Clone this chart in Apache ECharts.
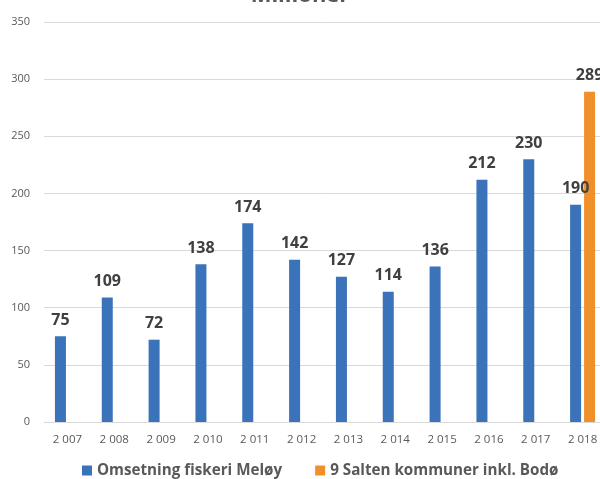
<!DOCTYPE html>
<html>
<head>
<meta charset="utf-8">
<script src="https://cdn.jsdelivr.net/npm/echarts@6/dist/echarts.min.js"></script>
<style>
  html, body { margin: 0; padding: 0; background: #fff; }
  #main { width: 600px; height: 479px; }
</style>
</head>
<body>
<div id="main"></div>
<script>
var years = ['2 007', '2 008', '2 009', '2 010', '2 011', '2 012', '2 013', '2 014', '2 015', '2 016', '2 017', '2 018'];
var meloy = [75, 109, 72, 138, 174, 142, 127, 114, 136, 212, 230, 190];
var salten = [null, null, null, null, null, null, null, null, null, null, null, 289];
var yTicks = [0, 350, 50];

var labelStyle = {
    show: true,
    position: 'top',
    distance: 8,
    fontSize: 16,
    fontWeight: 'bold',
    color: '#404040',
    fontFamily: 'Open Sans'
};

var option = {
    animation: false,
    title: {
        text: 'Millioner',
        left: 'center',
        top: -20,
        textStyle: { fontSize: 22, fontWeight: 'bold', color: '#595959', fontFamily: 'Open Sans' }
    },
    legend: {
        data: ['Omsetning fiskeri Meløy', '9 Salten kommuner inkl. Bodø'],
        left: 77,
        top: 458,
        width: 560,
        itemWidth: 10,
        itemHeight: 10,
        itemGap: 33,
        icon: 'rect',
        textStyle: { fontSize: 15.2, fontWeight: 'bold', color: '#595959', fontFamily: 'Open Sans' }
    },
    grid: { left: 44, right: -6, top: 22, bottom: 57, outerBoundsMode: 'none' },
    xAxis: {
        type: 'category',
        data: years,
        axisTick: { show: false },
        axisLine: { lineStyle: { color: '#d9d9d9' } },
        axisLabel: { color: '#595959', fontSize: 11.5, margin: 12, fontFamily: 'Open Sans' }
    },
    yAxis: {
        type: 'value',
        min: yTicks[0],
        max: yTicks[1],
        interval: yTicks[2],
        axisLine: { show: false },
        axisTick: { show: false },
        splitLine: { lineStyle: { color: '#d9d9d9' } },
        axisLabel: { color: '#595959', fontSize: 11, margin: 14, fontFamily: 'Open Sans' }
    },
    series: [
        {
            name: 'Omsetning fiskeri Meløy',
            type: 'bar',
            data: meloy,
            barWidth: 11,
            barGap: '27%',
            itemStyle: { color: '#3a73b9' },
            label: labelStyle
        },
        {
            name: '9 Salten kommuner inkl. Bodø',
            type: 'bar',
            data: salten,
            barWidth: 11,
            itemStyle: { color: '#f0902a' },
            label: labelStyle
        }
    ]
};

var myChart = echarts.init(document.getElementById('main'));
myChart.setOption(option);
</script>
</body>
</html>
